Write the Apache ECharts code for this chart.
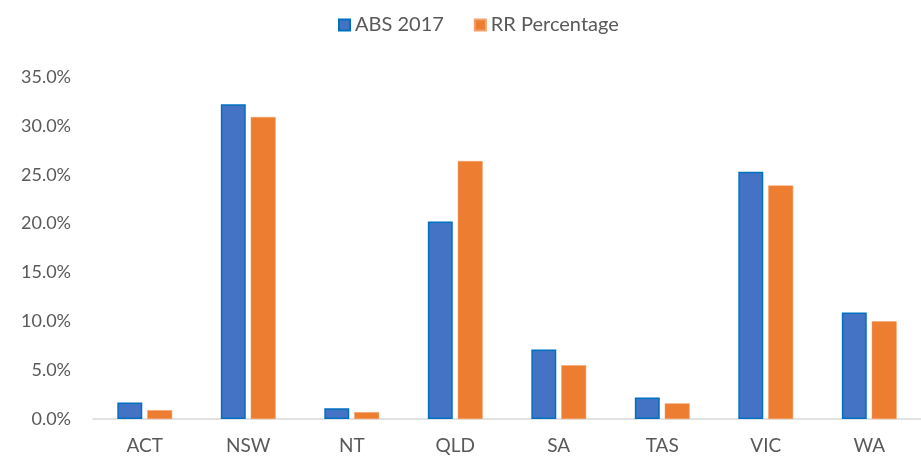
<!DOCTYPE html>
<html>
<head>
<meta charset="utf-8">
<script src="https://cdn.jsdelivr.net/npm/echarts@6/dist/echarts.min.js"></script>
<style>
  html, body { margin: 0; padding: 0; background: #fff; }
  #chart { width: 921px; height: 458px; }
</style>
</head>
<body>
<div id="chart"></div>
<script>
// states / territories
const categories = ['ACT', 'NSW', 'NT', 'QLD', 'SA', 'TAS', 'VIC', 'WA'];
// percentages
const abs2017 = [1.7, 32.2, 1.1, 20.2, 7.1, 2.2, 25.3, 10.9];
const rrPercentage = [0.9, 30.9, 0.7, 26.4, 5.5, 1.6, 23.9, 10.0];
const yTicks = [0, 5, 10, 15, 20, 25, 30, 35];

const font = 'Lato, "Open Sans", sans-serif';
const textColor = '#595959';

const chart = echarts.init(document.getElementById('chart'));
chart.setOption({
    animation: false,
    textStyle: { fontFamily: font },
    legend: {
        top: 10,
        left: 333,
        icon: 'rect',
        itemWidth: 11,
        itemHeight: 11,
        itemGap: 30,
        textStyle: { fontSize: 20, color: textColor, fontFamily: font },
        data: ['ABS 2017', 'RR Percentage']
    },
    grid: { left: 93, right: -9, top: 77, bottom: 39 },
    xAxis: {
        type: 'category',
        data: categories,
        axisLine: { lineStyle: { color: '#D9D9D9', width: 1.5 } },
        axisTick: { show: false },
        axisLabel: { fontSize: 19, color: textColor, margin: 17, fontFamily: font }
    },
    yAxis: {
        type: 'value',
        min: yTicks[0],
        max: yTicks[yTicks.length - 1],
        interval: 5,
        splitLine: { show: false },
        axisLine: { show: false },
        axisTick: { show: false },
        axisLabel: {
            fontSize: 18,
            color: textColor,
            margin: 22,
            fontFamily: font,
            formatter: v => v.toFixed(1) + '%'
        }
    },
    series: [
        {
            name: 'ABS 2017',
            type: 'bar',
            data: abs2017,
            barGap: '20%',
            barCategoryGap: '47%',
            itemStyle: { color: '#4472C4', borderColor: '#0070C0', borderWidth: 1.5 }
        },
        {
            name: 'RR Percentage',
            type: 'bar',
            data: rrPercentage,
            itemStyle: { color: '#ED7D31', borderColor: '#F4A06A', borderWidth: 0.5 }
        }
    ]
});
</script>
</body>
</html>
